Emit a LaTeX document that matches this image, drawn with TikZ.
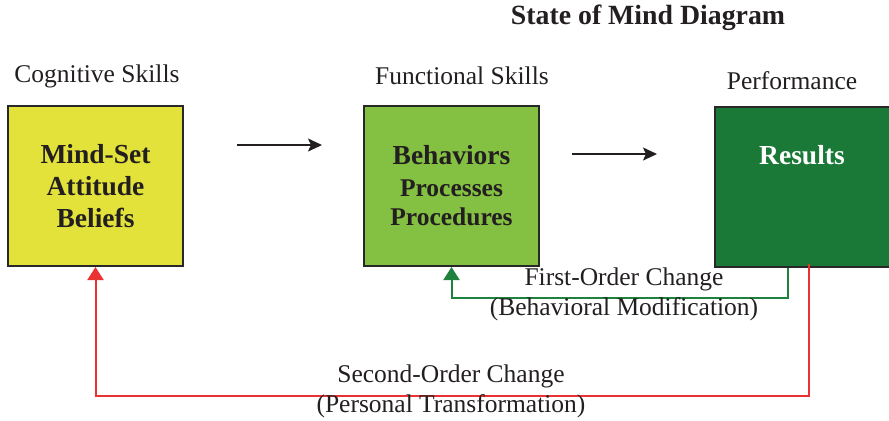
\documentclass[tikz,border=0pt]{standalone}
\usepackage{fontspec}
\setmainfont{Liberation Serif}
\usepackage{color}
\usetikzlibrary{arrows.meta,calc,positioning}
\definecolor{mindyellow}{RGB}{226,226,58}
\definecolor{skillgreen}{RGB}{132,192,65}
\definecolor{resultgreen}{RGB}{26,121,54}
\definecolor{firstgreen}{RGB}{30,130,60}
\definecolor{secondred}{RGB}{235,50,50}
\definecolor{boxline}{RGB}{40,40,40}
\definecolor{textgray}{RGB}{35,31,32}
\tikzset{
    semithick,
    box/.style ={rectangle, draw=boxline, line width=1pt, minimum width=87.5pt, minimum height=80pt, inner sep=0pt, align=center, text=textgray, font=\fontsize{13.75}{16}\selectfont\bfseries},
    head/.style = {inner sep=0pt, text=textgray, font=\fontsize{12.75}{15}\selectfont},
    flow/.style = {-{Stealth[length=7pt,width=6.5pt,inset=1.5pt]}, line width=0.9pt, textgray},
    feedback/.style = {-{Triangle[length=6.5pt,width=8pt]}, line width=1pt},
    el/.style = {inner sep=0pt, align=center, text=textgray, font=\fontsize{12.75}{15}\selectfont}
}

\begin{document}
\begin{tikzpicture}[x=0.5pt,y=-0.5pt]
    \useasboundingbox (0,0) rectangle (889,420);

    \node[head, font=\fontsize{13.9}{16}\selectfont\bfseries] (title) at (648,18) {State of Mind Diagram};
    \node[head] (cogl) at (97,76) {Cognitive Skills};
    \node[head] (funl) at (462,76) {Functional Skills};
    \node[head] (perl) at (792,81) {Performance};

    \node[box, fill=mindyellow] (cog) at (95.5,186) {Mind-Set\\Attitude\\Beliefs};
    \node[box, fill=skillgreen] (func) at (451.5,186) {Behaviors\\{\fontsize{12.75}{15}\selectfont Processes}\\[-1.5pt]{\fontsize{12.75}{15}\selectfont Procedures}};
    \node[box, fill=resultgreen, minimum width=95pt] (perf) at (810,187) {};
    \node[head, text=white, font=\fontsize{13.75}{16}\selectfont\bfseries] (res) at (802,155) {Results};

    % forward arrows
    \draw[flow, shorten <=26.5pt, shorten >=20.5pt] ([yshift=20.5pt]cog.east) -- ([yshift=20.5pt]cog.east -| func.west);
    \draw[flow, shorten <=16pt, shorten >=28.5pt] ([yshift=16pt]func.east) -- ([yshift=16pt]func.east -| perf.west);

    % feedback loops
    \draw[feedback, firstgreen] ([xshift=-11pt]perf.south) -- ++(0,30) -| (func.south);
    \draw[feedback, secondred] ([xshift=-0.5pt,yshift=2pt]perf.south) -- ++(0,132) -| (cog.south);

    \node[el] (first) at (624,294) {First-Order Change\\(Behavioral Modification)};
    \node[el] (second) at (451,391) {Second-Order Change\\(Personal Transformation)};
\end{tikzpicture}
\end{document}
